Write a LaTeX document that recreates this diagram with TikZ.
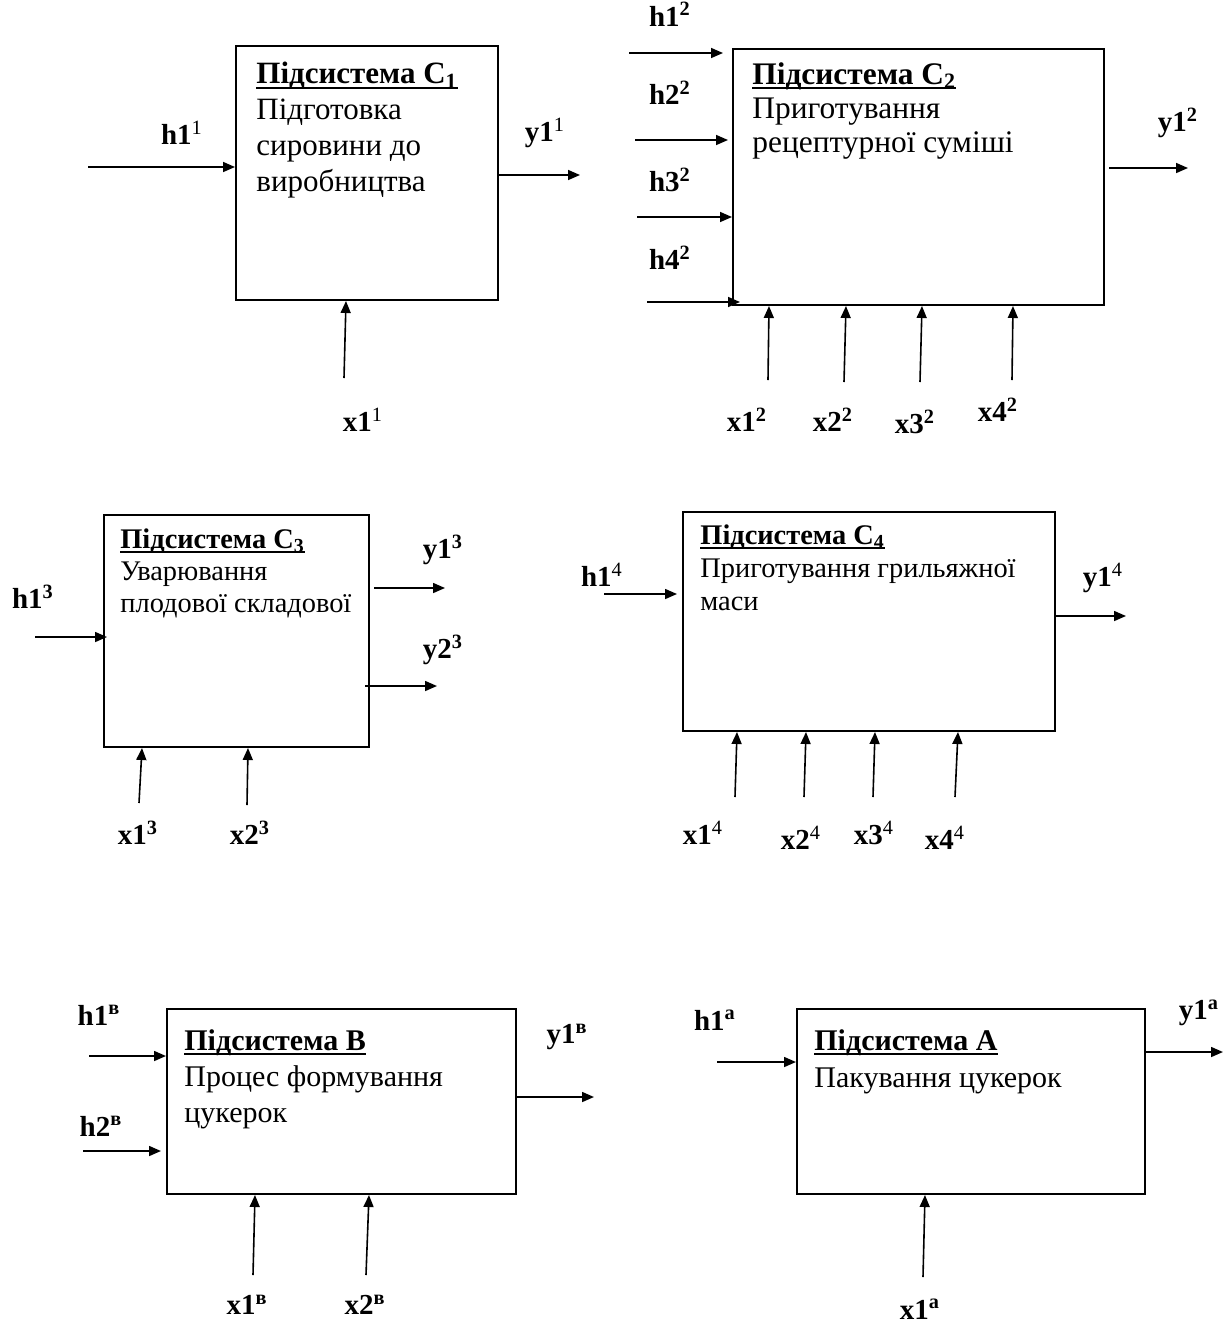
\documentclass[tikz,border=0pt]{standalone}
\usepackage{fontspec}
\setmainfont{Liberation Serif}
\usetikzlibrary{arrows.meta, calc}

\newsavebox{\titlebox}
\newcommand{\subsys}[1]{\sbox\titlebox{\bfseries #1}\rlap{\rule[-2.5pt]{\wd\titlebox}{1.2pt}}\usebox\titlebox}

\begin{document}
\begin{tikzpicture}[x=0.5pt, y=-0.5pt,
    sysbox/.style={draw, line width=1pt, anchor=north west, inner sep=0pt},
    boxtext/.style 2 args={anchor=north west, inner sep=0pt, align=left, font=\fontsize{#1}{#2}\selectfont},
    sig/.style={inner sep=0pt, font=\bfseries\fontsize{14.5}{17}\selectfont},
    arr/.style={-{Triangle[length=6pt,width=5pt]}, line width=0.8pt}
]
\useasboundingbox (0,0) rectangle (1226,1324);
\clip (0,0) rectangle (1226,1324);

% subsystem C1
\node[sysbox, minimum width=131pt, minimum height=127pt] (c1) at (235,45) {};
\node[boxtext={15.5}{18}] (c1text) at (256,62) {\subsys{Підсистема C\textsubscript{1}}\\Підготовка\\сировини до\\виробництва};
\coordinate (c1h1) at (88,167);
\coordinate (c1y1) at (580,175);
\coordinate (c1x1) at (344,378);
\draw[arr] (c1h1) -- (c1h1 -| c1.west);
\draw[arr] (c1y1 -| c1.east) -- (c1y1);
\draw[arr] (c1x1) -- ($(c1.south west)+(111,0)$);
\node[sig] (lc1h1) at (182,133) {h1\textsuperscript{\mdseries 1}};
\node[sig] (lc1y1) at (545,133) {y1\textsuperscript{\mdseries 1}};
\node[sig] (lc1x1) at (363,420) {x1\textsuperscript{\mdseries 1}};

% subsystem C2
\node[sysbox, minimum width=185.5pt, minimum height=128pt] (c2) at (732,48) {};
\node[boxtext={15.7}{17}] (c2text) at (752,62) {\subsys{Підсистема C\textsubscript{2}}\\Приготування\\рецептурної суміші};
\coordinate (c2h1) at (629,53);
\coordinate (c2h2) at (635,140);
\coordinate (c2h3) at (637,217);
\coordinate (c2h4) at (647,302);
\coordinate (c2y1) at (1188,168);
\coordinate (c2x1) at (768,380);
\coordinate (c2x2) at (844,382);
\coordinate (c2x3) at (920,382);
\coordinate (c2x4) at (1012,380);
\draw[arr, shorten >=4.5pt] (c2h1) -- (c2h1 -| c2.west);
\draw[arr, shorten >=2pt] (c2h2) -- (c2h2 -| c2.west);
\draw[arr] (c2h3) -- (c2h3 -| c2.west);
\draw[arr, shorten >=-4pt] (c2h4) -- (c2h4 -| c2.west);
\draw[arr, shorten <=2pt] (c2y1 -| c2.east) -- (c2y1);
\draw[arr] (c2x1) -- ($(c2.south west)+(37,0)$);
\draw[arr] (c2x2) -- ($(c2.south west)+(114,0)$);
\draw[arr] (c2x3) -- ($(c2.south west)+(190,0)$);
\draw[arr] (c2x4) -- ($(c2.south west)+(281,0)$);
\node[sig, anchor=base] (lc2h1) at (670,26) {h1\textsuperscript{2}};
\node[sig] (lc2h2) at (670,93) {h2\textsuperscript{2}};
\node[sig] (lc2h3) at (670,180) {h3\textsuperscript{2}};
\node[sig] (lc2h4) at (670,258) {h4\textsuperscript{2}};
\node[sig] (lc2y1) at (1178,123) {y1\textsuperscript{2}};
\node[sig] (lc2x1) at (747,420) {x1\textsuperscript{2}};
\node[sig] (lc2x2) at (833,420) {x2\textsuperscript{2}};
\node[sig] (lc2x3) at (915,422) {x3\textsuperscript{2}};
\node[sig] (lc2x4) at (998,410) {x4\textsuperscript{2}};

% subsystem C3
\node[sysbox, minimum width=132.5pt, minimum height=116pt] (c3) at (103,514) {};
\node[boxtext={14.2}{16}] (c3text) at (120,528) {\subsys{Підсистема C\textsubscript{3}}\\Уварювання\\плодової складової};
\coordinate (c3h1) at (35,637);
\coordinate (c3y1) at (445,588);
\coordinate (c3y2) at (437,686);
\coordinate (c3x1) at (139,803);
\coordinate (c3x2) at (247,805);
\draw[arr, shorten >=-2pt] (c3h1) -- (c3h1 -| c3.west);
\draw[arr, shorten <=2pt] (c3y1 -| c3.east) -- (c3y1);
\draw[arr, shorten <=-2.5pt] (c3y2 -| c3.east) -- (c3y2);
\draw[arr] (c3x1) -- ($(c3.south west)+(39,0)$);
\draw[arr] (c3x2) -- ($(c3.south west)+(145,0)$);
\node[sig] (lc3h1) at (33,597) {h1\textsuperscript{3}};
\node[sig] (lc3y1) at (443,550) {y1\textsuperscript{3}};
\node[sig] (lc3y2) at (443,650) {y2\textsuperscript{3}};
\node[sig] (lc3x1) at (138,833) {x1\textsuperscript{3}};
\node[sig] (lc3x2) at (250,833) {x2\textsuperscript{3}};

% subsystem C4
\node[sysbox, minimum width=186pt, minimum height=109.5pt] (c4) at (682,511) {};
\node[boxtext={14.2}{16.5}] (c4text) at (700,524) {\subsys{Підсистема C\textsubscript{4}}\\Приготування грильяжної\\маси};
\coordinate (c4h1) at (604,594);
\coordinate (c4y1) at (1126,616);
\coordinate (c4x1) at (735,797);
\coordinate (c4x2) at (804,797);
\coordinate (c4x3) at (873,797);
\coordinate (c4x4) at (955,797);
\draw[arr, shorten >=2.5pt] (c4h1) -- (c4h1 -| c4.west);
\draw[arr] (c4y1 -| c4.east) -- (c4y1);
\draw[arr] (c4x1) -- ($(c4.south west)+(55,0)$);
\draw[arr] (c4x2) -- ($(c4.south west)+(124,0)$);
\draw[arr] (c4x3) -- ($(c4.south west)+(193,0)$);
\draw[arr] (c4x4) -- ($(c4.south west)+(276,0)$);
\node[sig] (lc4h1) at (602,575) {h1\textsuperscript{\mdseries 4}};
\node[sig] (lc4y1) at (1103,578) {y1\textsuperscript{\mdseries 4}};
\node[sig] (lc4x1) at (703,833) {x1\textsuperscript{\mdseries 4}};
\node[sig] (lc4x2) at (801,838) {x2\textsuperscript{\mdseries 4}};
\node[sig] (lc4x3) at (874,833) {x3\textsuperscript{\mdseries 4}};
\node[sig] (lc4x4) at (945,838) {x4\textsuperscript{\mdseries 4}};

% subsystem B
\node[sysbox, minimum width=174.5pt, minimum height=92.5pt] (sb) at (166,1008) {};
\node[boxtext={15}{18}] (sbtext) at (184,1029) {\subsys{Підсистема В}\\Процес формування\\цукерок};
\coordinate (sbh1) at (89,1056);
\coordinate (sbh2) at (83,1151);
\coordinate (sby1) at (594,1097);
\coordinate (sbx1) at (253,1275);
\coordinate (sbx2) at (366,1275);
\draw[arr] (sbh1) -- (sbh1 -| sb.west);
\draw[arr, shorten >=2.5pt] (sbh2) -- (sbh2 -| sb.west);
\draw[arr] (sby1 -| sb.east) -- (sby1);
\draw[arr] (sbx1) -- ($(sb.south west)+(89,0)$);
\draw[arr] (sbx2) -- ($(sb.south west)+(203,0)$);
\node[sig] (lsbh1) at (99,1015) {h1\textsuperscript{в}};
\node[sig] (lsbh2) at (101,1126) {h2\textsuperscript{в}};
\node[sig] (lsby1) at (567,1037) {y1\textsuperscript{в}};
\node[sig] (lsbx1) at (247,1305) {x1\textsuperscript{в}};
\node[sig] (lsbx2) at (365,1305) {x2\textsuperscript{в}};

% subsystem A
\node[sysbox, minimum width=174pt, minimum height=92.5pt] (sa) at (796,1008) {};
\node[boxtext={15}{18.5}] (satext) at (814,1029) {\subsys{Підсистема А}\\Пакування цукерок};
\coordinate (sah1) at (717,1062);
\coordinate (say1) at (1223,1052);
\coordinate (sax1) at (923,1277);
\draw[arr] (sah1) -- (sah1 -| sa.west);
\draw[arr] (say1 -| sa.east) -- (say1);
\draw[arr] (sax1) -- ($(sa.south west)+(129,0)$);
\node[sig] (lsah1) at (715,1020) {h1\textsuperscript{а}};
\node[sig] (lsay1) at (1199,1013) {y1\textsuperscript{а}};
\node[sig] (lsax1) at (920,1309) {x1\textsuperscript{а}};
\end{tikzpicture}
\end{document}
